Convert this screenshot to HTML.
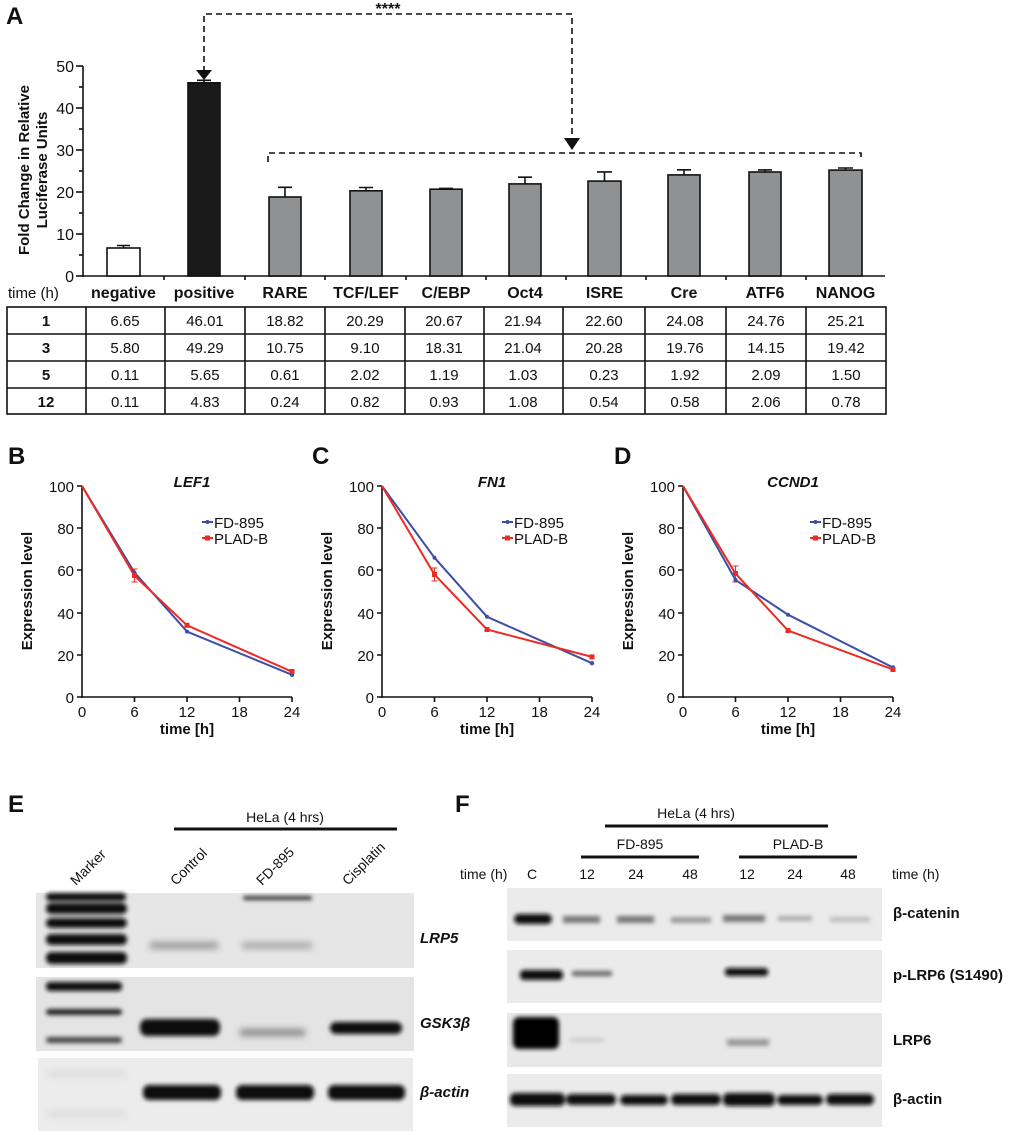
<!DOCTYPE html>
<html><head><meta charset="utf-8"><style>
html,body{margin:0;padding:0;background:#fff}
svg{display:block}
text{font-family:"Liberation Sans",Arial,sans-serif;fill:#111}
.b{font-weight:bold}
</style></head><body>
<svg width="1020" height="1135" viewBox="0 0 1020 1135" xmlns="http://www.w3.org/2000/svg">
<defs>
<filter id="bl" x="-20%" y="-80%" width="140%" height="260%"><feGaussianBlur stdDeviation="2"/></filter>
<filter id="bl2" x="-20%" y="-80%" width="140%" height="260%"><feGaussianBlur stdDeviation="3.5"/></filter>
</defs>
<!-- Panel A -->
<text x="6" y="24" font-size="24" class="b">A</text>
<g stroke="#111" stroke-width="1.6" fill="none" stroke-dasharray="6,4">
<polyline points="204,72 204,14 572,14 572,140"/>
<polyline points="268,162 268,153 861,153 861,161"/>
</g>
<polygon points="196,70 212,70 204,80" fill="#111"/>
<polygon points="564,138 580,138 572,150" fill="#111"/>
<text x="388" y="14" font-size="16" class="b" text-anchor="middle">****</text>
<!-- axes -->
<g stroke="#111" stroke-width="1.6">
<line x1="83" y1="66" x2="83" y2="277"/>
<line x1="83" y1="276" x2="885" y2="276"/>
<line x1="76" y1="66" x2="83" y2="66"/><line x1="76" y1="108" x2="83" y2="108"/><line x1="76" y1="150" x2="83" y2="150"/><line x1="76" y1="192" x2="83" y2="192"/><line x1="76" y1="234" x2="83" y2="234"/><line x1="76" y1="276" x2="83" y2="276"/>
<line x1="79" y1="87" x2="83" y2="87"/><line x1="79" y1="129" x2="83" y2="129"/><line x1="79" y1="171" x2="83" y2="171"/><line x1="79" y1="213" x2="83" y2="213"/><line x1="79" y1="255" x2="83" y2="255"/>
<line x1="164" y1="276" x2="164" y2="280"/><line x1="245" y1="276" x2="245" y2="280"/><line x1="325" y1="276" x2="325" y2="280"/><line x1="406" y1="276" x2="406" y2="280"/><line x1="486" y1="276" x2="486" y2="280"/><line x1="566" y1="276" x2="566" y2="280"/><line x1="646" y1="276" x2="646" y2="280"/><line x1="726" y1="276" x2="726" y2="280"/><line x1="806" y1="276" x2="806" y2="280"/>
</g>
<g font-size="16" text-anchor="end">
<text x="74" y="72">50</text><text x="74" y="114">40</text><text x="74" y="156">30</text><text x="74" y="198">20</text><text x="74" y="240">10</text><text x="74" y="282">0</text>
</g>
<text transform="translate(29,170) rotate(-90)" font-size="15" class="b" text-anchor="middle">Fold Change in Relative</text>
<text transform="translate(47,170) rotate(-90)" font-size="15" class="b" text-anchor="middle">Luciferase Units</text>
<!-- bars -->
<g stroke="#111" stroke-width="1.6">
<rect x="107" y="248" width="33" height="28" fill="#fff"/>
<rect x="188" y="82.8" width="32" height="193.2" fill="#1a1a1a"/>
<rect x="269" y="197" width="32" height="79" fill="#8f9193"/>
<rect x="350" y="190.8" width="32" height="85.2" fill="#8f9193"/>
<rect x="430" y="189.2" width="32" height="86.8" fill="#8f9193"/>
<rect x="509" y="183.9" width="32" height="92.1" fill="#8f9193"/>
<rect x="588" y="181.1" width="33" height="94.9" fill="#8f9193"/>
<rect x="668" y="174.9" width="32" height="101.1" fill="#8f9193"/>
<rect x="749" y="172" width="32" height="104" fill="#8f9193"/>
<rect x="829" y="170.1" width="33" height="105.9" fill="#8f9193"/>
<path d="M123.5 248V245.5M117 245.5H130 M204 82.8V80.3M197 80.3H211 M285 197V187.3M278 187.3H292 M366 190.8V187.5M359 187.5H373 M446 189.2V188.4M439 188.4H453 M525 183.9V177.2M518 177.2H532 M604.5 181.1V171.9M597 171.9H612 M684 174.9V169.8M677 169.8H691 M765 172V169.9M758 169.9H772 M845.5 170.1V168M838 168H853" fill="none"/>
</g>
<g font-size="16" class="b" text-anchor="middle">
<text x="123.5" y="298">negative</text><text x="204" y="298">positive</text><text x="285" y="298">RARE</text><text x="366" y="298">TCF/LEF</text><text x="446" y="298">C/EBP</text><text x="525" y="298">Oct4</text><text x="604.5" y="298">ISRE</text><text x="684" y="298">Cre</text><text x="765" y="298">ATF6</text><text x="845.5" y="298">NANOG</text>
</g>
<text x="8" y="298" font-size="15">time (h)</text>
<!-- table -->
<g stroke="#111" stroke-width="1.6" fill="none">
<rect x="7" y="307" width="879" height="107"/>
<path d="M7 334H886M7 361H886M7 388H886M86 307V414M165 307V414M245 307V414M325 307V414M405 307V414M484 307V414M563 307V414M645 307V414M726 307V414M806 307V414"/>
</g>
<g font-size="15" text-anchor="middle">
<g class="b"><text x="46" y="326">1</text><text x="46" y="353">3</text><text x="46" y="380">5</text><text x="46" y="407">12</text></g>
<text x="125" y="326">6.65</text><text x="205" y="326">46.01</text><text x="285" y="326">18.82</text><text x="365" y="326">20.29</text><text x="444" y="326">20.67</text><text x="523" y="326">21.94</text><text x="604" y="326">22.60</text><text x="685" y="326">24.08</text><text x="766" y="326">24.76</text><text x="846" y="326">25.21</text>
<text x="125" y="353">5.80</text><text x="205" y="353">49.29</text><text x="285" y="353">10.75</text><text x="365" y="353">9.10</text><text x="444" y="353">18.31</text><text x="523" y="353">21.04</text><text x="604" y="353">20.28</text><text x="685" y="353">19.76</text><text x="766" y="353">14.15</text><text x="846" y="353">19.42</text>
<text x="125" y="380">0.11</text><text x="205" y="380">5.65</text><text x="285" y="380">0.61</text><text x="365" y="380">2.02</text><text x="444" y="380">1.19</text><text x="523" y="380">1.03</text><text x="604" y="380">0.23</text><text x="685" y="380">1.92</text><text x="766" y="380">2.09</text><text x="846" y="380">1.50</text>
<text x="125" y="407">0.11</text><text x="205" y="407">4.83</text><text x="285" y="407">0.24</text><text x="365" y="407">0.82</text><text x="444" y="407">0.93</text><text x="523" y="407">1.08</text><text x="604" y="407">0.54</text><text x="685" y="407">0.58</text><text x="766" y="407">2.06</text><text x="846" y="407">0.78</text>
</g>

<!-- Line charts B C D -->
<g id="lc">
</g>
<text x="8" y="464" font-size="24" class="b">B</text>
<text x="312" y="464" font-size="24" class="b">C</text>
<text x="614" y="464" font-size="24" class="b">D</text>

<!-- chart B offset 82 -->
<g transform="translate(82,0)">
<g stroke="#111" stroke-width="1.6"><line x1="0" y1="486" x2="0" y2="698"/><line x1="0" y1="697" x2="210" y2="697"/>
<path d="M-5 486H0M-5 528H0M-5 570H0M-5 613H0M-5 655H0M-5 697H0M52.5 697V702M105 697V702M157.5 697V702M210 697V702"/></g>
<g font-size="15" text-anchor="end"><text x="-8" y="492">100</text><text x="-8" y="534">80</text><text x="-8" y="576">60</text><text x="-8" y="619">40</text><text x="-8" y="661">20</text><text x="-8" y="703">0</text></g>
<g font-size="15" text-anchor="middle"><text x="0" y="717">0</text><text x="52.5" y="717">6</text><text x="105" y="717">12</text><text x="157.5" y="717">18</text><text x="210" y="717">24</text></g>
<text x="105" y="734" font-size="15" class="b" text-anchor="middle">time [h]</text>
<text transform="translate(-50,591) rotate(-90)" font-size="15" class="b" text-anchor="middle">Expression level</text>
<text x="110" y="487" font-size="15" class="b" font-style="italic" text-anchor="middle">LEF1</text>
<polyline points="0,486 52.5,572.5 105,631.6 210,674.8" fill="none" stroke="#3c4fa4" stroke-width="2"/>
<polyline points="0,486 52.5,575.7 105,625.3 210,671.7" fill="none" stroke="#ee2a24" stroke-width="2"/>
<path d="M52.5 569V582M49.5 569H55.5M49.5 582H55.5" stroke="#ee2a24" stroke-width="1"/>
<g fill="#3c4fa4"><circle cx="52.5" cy="572.5" r="2"/><circle cx="105" cy="631.6" r="2"/><circle cx="210" cy="674.8" r="2.2"/></g>
<g fill="#ee2a24"><rect x="50" y="573" width="5" height="5"/><rect x="102.5" y="622.8" width="5" height="5"/><rect x="207.5" y="669" width="5" height="5"/></g>
<line x1="120" y1="522" x2="131" y2="522" stroke="#3c4fa4" stroke-width="2"/><circle cx="125.5" cy="522" r="2" fill="#3c4fa4"/>
<line x1="120" y1="538" x2="131" y2="538" stroke="#ee2a24" stroke-width="2"/><rect x="123" y="535.5" width="5" height="5" fill="#ee2a24"/>
<text x="132" y="528" font-size="15">FD-895</text><text x="132" y="544" font-size="15">PLAD-B</text>
</g>

<!-- chart C -->
<g transform="translate(382,0)">
<g stroke="#111" stroke-width="1.6"><line x1="0" y1="486" x2="0" y2="698"/><line x1="0" y1="697" x2="210" y2="697"/>
<path d="M-5 486H0M-5 528H0M-5 570H0M-5 613H0M-5 655H0M-5 697H0M52.5 697V702M105 697V702M157.5 697V702M210 697V702"/></g>
<g font-size="15" text-anchor="end"><text x="-8" y="492">100</text><text x="-8" y="534">80</text><text x="-8" y="576">60</text><text x="-8" y="619">40</text><text x="-8" y="661">20</text><text x="-8" y="703">0</text></g>
<g font-size="15" text-anchor="middle"><text x="0" y="717">0</text><text x="52.5" y="717">6</text><text x="105" y="717">12</text><text x="157.5" y="717">18</text><text x="210" y="717">24</text></g>
<text x="105" y="734" font-size="15" class="b" text-anchor="middle">time [h]</text>
<text transform="translate(-50,591) rotate(-90)" font-size="15" class="b" text-anchor="middle">Expression level</text>
<text x="110" y="487" font-size="15" class="b" font-style="italic" text-anchor="middle">FN1</text>
<polyline points="0,486 52.5,557.7 105,616.8 210,663.2" fill="none" stroke="#3c4fa4" stroke-width="2"/>
<polyline points="0,486 52.5,574.6 105,629.5 210,656.9" fill="none" stroke="#ee2a24" stroke-width="2"/>
<path d="M52.5 568V581M49.5 568H55.5M49.5 581H55.5" stroke="#ee2a24" stroke-width="1"/>
<g fill="#3c4fa4"><circle cx="52.5" cy="557.7" r="2"/><circle cx="105" cy="616.8" r="2"/><circle cx="210" cy="663.2" r="2.2"/></g>
<g fill="#ee2a24"><rect x="50" y="572" width="5" height="5"/><rect x="102.5" y="627" width="5" height="5"/><rect x="207.5" y="654.4" width="5" height="5"/></g>
<line x1="120" y1="522" x2="131" y2="522" stroke="#3c4fa4" stroke-width="2"/><circle cx="125.5" cy="522" r="2" fill="#3c4fa4"/>
<line x1="120" y1="538" x2="131" y2="538" stroke="#ee2a24" stroke-width="2"/><rect x="123" y="535.5" width="5" height="5" fill="#ee2a24"/>
<text x="132" y="528" font-size="15">FD-895</text><text x="132" y="544" font-size="15">PLAD-B</text>
</g>

<!-- chart D -->
<g transform="translate(683,0)">
<g stroke="#111" stroke-width="1.6"><line x1="0" y1="486" x2="0" y2="698"/><line x1="0" y1="697" x2="210" y2="697"/>
<path d="M-5 486H0M-5 528H0M-5 570H0M-5 613H0M-5 655H0M-5 697H0M52.5 697V702M105 697V702M157.5 697V702M210 697V702"/></g>
<g font-size="15" text-anchor="end"><text x="-8" y="492">100</text><text x="-8" y="534">80</text><text x="-8" y="576">60</text><text x="-8" y="619">40</text><text x="-8" y="661">20</text><text x="-8" y="703">0</text></g>
<g font-size="15" text-anchor="middle"><text x="0" y="717">0</text><text x="52.5" y="717">6</text><text x="105" y="717">12</text><text x="157.5" y="717">18</text><text x="210" y="717">24</text></g>
<text x="105" y="734" font-size="15" class="b" text-anchor="middle">time [h]</text>
<text transform="translate(-50,591) rotate(-90)" font-size="15" class="b" text-anchor="middle">Expression level</text>
<text x="110" y="487" font-size="15" class="b" font-style="italic" text-anchor="middle">CCND1</text>
<polyline points="0,486 52.5,579.9 105,614.7 210,667.5" fill="none" stroke="#3c4fa4" stroke-width="2"/>
<polyline points="0,486 52.5,573.6 105,630.5 210,669.6" fill="none" stroke="#ee2a24" stroke-width="2"/>
<path d="M52.5 566V582M49.5 566H55.5M49.5 582H55.5" stroke="#ee2a24" stroke-width="1"/>
<g fill="#3c4fa4"><circle cx="52.5" cy="579.9" r="2"/><circle cx="105" cy="614.7" r="2"/><circle cx="210" cy="667.5" r="2.2"/></g>
<g fill="#ee2a24"><rect x="50" y="571" width="5" height="5"/><rect x="102.5" y="628" width="5" height="5"/><rect x="207.5" y="667" width="5" height="5"/></g>
<line x1="127" y1="522" x2="138" y2="522" stroke="#3c4fa4" stroke-width="2"/><circle cx="132.5" cy="522" r="2" fill="#3c4fa4"/>
<line x1="127" y1="538" x2="138" y2="538" stroke="#ee2a24" stroke-width="2"/><rect x="130" y="535.5" width="5" height="5" fill="#ee2a24"/>
<text x="139" y="528" font-size="15">FD-895</text><text x="139" y="544" font-size="15">PLAD-B</text>
</g>

<!-- Panel E -->
<text x="8" y="812" font-size="24" class="b">E</text>
<text x="285" y="822" font-size="14" text-anchor="middle">HeLa (4 hrs)</text>
<line x1="174" y1="829" x2="397" y2="829" stroke="#111" stroke-width="3"/>
<g font-size="14">
<text transform="translate(76,886) rotate(-45)">Marker</text>
<text transform="translate(176,886) rotate(-45)">Control</text>
<text transform="translate(262,886) rotate(-45)">FD-895</text>
<text transform="translate(348,886) rotate(-45)">Cisplatin</text>
</g>
<rect x="36" y="893" width="378" height="75" fill="#e6e6e6"/>
<rect x="36" y="977" width="378" height="74" fill="#e4e4e4"/>
<rect x="38" y="1058" width="375" height="73" fill="#ececec"/>
<g fill="#0c0c0c" filter="url(#bl)">
<rect x="46" y="893" width="80" height="8" rx="4"/><rect x="46" y="903" width="81" height="11" rx="5"/><rect x="46" y="918" width="81" height="10" rx="5"/><rect x="46" y="934" width="81" height="11" rx="5"/><rect x="46" y="952" width="81" height="12" rx="5"/>
<rect x="46" y="982" width="76" height="9" rx="4"/><rect x="46" y="1009" width="76" height="6" rx="3" fill="#222"/><rect x="46" y="1037" width="76" height="6" rx="3" fill="#444"/>
<rect x="140" y="1019" width="80" height="17" rx="7"/><rect x="330" y="1022" width="72" height="12" rx="6"/>
<rect x="143" y="1085" width="78" height="15" rx="6"/><rect x="236" y="1085" width="78" height="15" rx="6"/><rect x="328" y="1085" width="77" height="15" rx="6"/>
<rect x="243" y="896" width="69" height="4" rx="2" fill="#333"/>
</g>
<g filter="url(#bl2)">
<rect x="150" y="942" width="68" height="7" fill="#999"/><rect x="242" y="942" width="70" height="7" fill="#aaa"/>
<rect x="240" y="1029" width="65" height="7" fill="#888"/>
<rect x="48" y="1070" width="78" height="7" fill="#ddd"/><rect x="48" y="1110" width="78" height="7" fill="#ddd"/>
</g>
<g font-size="15" class="b" font-style="italic">
<text x="420" y="943">LRP5</text><text x="420" y="1028">GSK3β</text><text x="420" y="1097">β-actin</text>
</g>

<!-- Panel F -->
<text x="455" y="812" font-size="24" class="b">F</text>
<text x="696" y="818" font-size="14" text-anchor="middle">HeLa (4 hrs)</text>
<line x1="605" y1="826" x2="828" y2="826" stroke="#111" stroke-width="3"/>
<text x="640" y="849" font-size="14" text-anchor="middle">FD-895</text>
<text x="798" y="849" font-size="14" text-anchor="middle">PLAD-B</text>
<line x1="581" y1="857" x2="699" y2="857" stroke="#111" stroke-width="3"/>
<line x1="739" y1="857" x2="857" y2="857" stroke="#111" stroke-width="3"/>
<g font-size="14">
<text x="460" y="879">time (h)</text><text x="527" y="879">C</text>
<text x="587" y="879" text-anchor="middle">12</text><text x="636" y="879" text-anchor="middle">24</text><text x="690" y="879" text-anchor="middle">48</text>
<text x="747" y="879" text-anchor="middle">12</text><text x="795" y="879" text-anchor="middle">24</text><text x="848" y="879" text-anchor="middle">48</text>
<text x="892" y="879">time (h)</text>
</g>
<rect x="507" y="888" width="375" height="53" fill="#ebebeb"/>
<rect x="507" y="950" width="375" height="53" fill="#ebebeb"/>
<rect x="507" y="1013" width="375" height="54" fill="#e8e8e8"/>
<rect x="507" y="1074" width="375" height="53" fill="#ebebeb"/>
<g filter="url(#bl)">
<rect x="514" y="914" width="38" height="10" rx="5" fill="#0a0a0a"/>
<rect x="563" y="916" width="37" height="7" fill="#777"/><rect x="617" y="916" width="37" height="7" fill="#777"/><rect x="671" y="917" width="40" height="6" fill="#999"/><rect x="723" y="915" width="42" height="7" fill="#777"/><rect x="778" y="916" width="34" height="5" fill="#aaa"/><rect x="830" y="917" width="40" height="5" fill="#bbb"/>
<rect x="520" y="970" width="43" height="10" rx="4" fill="#0a0a0a"/>
<rect x="572" y="971" width="40" height="5" fill="#666"/>
<rect x="725" y="968" width="43" height="8" rx="3" fill="#111"/>
<rect x="513" y="1017" width="46" height="32" rx="6" fill="#050505"/>
<rect x="727" y="1039" width="42" height="7" fill="#999"/><rect x="570" y="1038" width="35" height="4" fill="#ccc"/>
<rect x="510" y="1093" width="55" height="13" rx="5" fill="#0a0a0a"/><rect x="566" y="1094" width="50" height="11" rx="5" fill="#111"/><rect x="620" y="1095" width="48" height="10" rx="5" fill="#111"/><rect x="671" y="1094" width="50" height="11" rx="5" fill="#111"/><rect x="723" y="1093" width="52" height="13" rx="5" fill="#0a0a0a"/><rect x="777" y="1095" width="46" height="10" rx="5" fill="#111"/><rect x="826" y="1094" width="48" height="11" rx="5" fill="#111"/>
</g>
<g font-size="15" class="b">
<text x="893" y="918">β-catenin</text><text x="893" y="980">p-LRP6 (S1490)</text><text x="893" y="1045">LRP6</text><text x="893" y="1104">β-actin</text>
</g>
</svg>
</body></html>
